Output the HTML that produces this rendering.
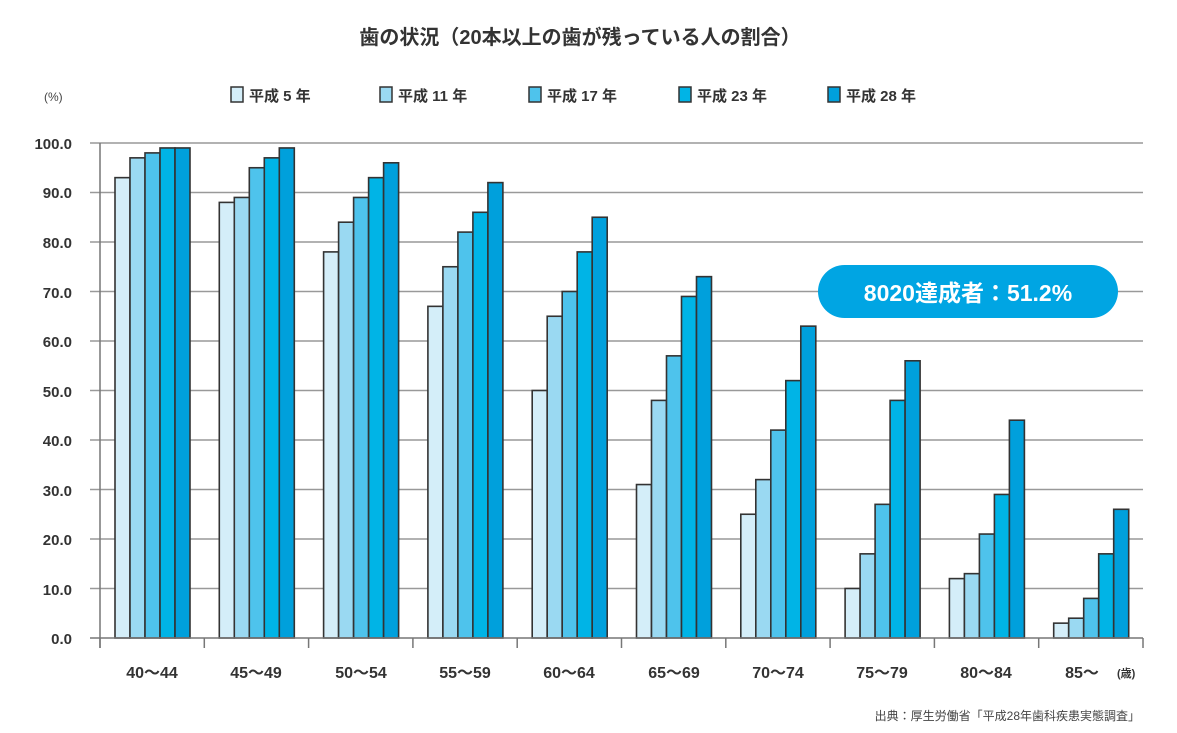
<!DOCTYPE html>
<html><head><meta charset="utf-8"><style>
html,body{margin:0;padding:0;background:#fff;}
svg{display:block;}
text{font-family:"Liberation Sans","Noto Sans CJK JP",sans-serif;font-weight:bold;fill:#333;}
</style></head><body>
<svg id="s" width="1177" height="733" viewBox="0 0 1177 733" xmlns="http://www.w3.org/2000/svg">
<text x="580" y="44" font-size="20" text-anchor="middle" fill="#222">歯の状況（20本以上の歯が残っている人の割合）</text>
<text x="44" y="101" font-size="12" style="font-weight:normal;fill:#444">(%)</text>
<g font-size="15">
<rect x="231" y="87" width="12" height="15" fill="#d4eef9" stroke="#333" stroke-width="1.5"/><text x="249" y="101">平成 5 年</text>
<rect x="380" y="87" width="12" height="15" fill="#9ad9f2" stroke="#333" stroke-width="1.5"/><text x="398" y="101">平成 11 年</text>
<rect x="529" y="87" width="12" height="15" fill="#4ec3ec" stroke="#333" stroke-width="1.5"/><text x="547" y="101">平成 17 年</text>
<rect x="679" y="87" width="12" height="15" fill="#00b4e6" stroke="#333" stroke-width="1.5"/><text x="697" y="101">平成 23 年</text>
<rect x="828" y="87" width="12" height="15" fill="#00a0dc" stroke="#333" stroke-width="1.5"/><text x="846" y="101">平成 28 年</text>
</g>
<g id="grid" stroke="#999" stroke-width="1.5"></g>
<g font-size="15" text-anchor="end">
<text x="72" y="149">100.0</text><text x="72" y="198">90.0</text><text x="72" y="248">80.0</text><text x="72" y="298">70.0</text><text x="72" y="347">60.0</text><text x="72" y="397">50.0</text><text x="72" y="446">40.0</text><text x="72" y="496">30.0</text><text x="72" y="545">20.0</text><text x="72" y="595">10.0</text><text x="72" y="644">0.0</text>
</g>
<g id="bars"></g>
<line x1="100" y1="143" x2="100" y2="648" stroke="#777" stroke-width="1.5"/>
<line x1="90" y1="638" x2="1143" y2="638" stroke="#777" stroke-width="1.5"/>
<g id="ticks" stroke="#777" stroke-width="1.5"></g>
<g font-size="16" text-anchor="middle">
<text x="152" y="678">40〜44</text><text x="256" y="678">45〜49</text><text x="361" y="678">50〜54</text><text x="465" y="678">55〜59</text><text x="569" y="678">60〜64</text><text x="674" y="678">65〜69</text><text x="778" y="678">70〜74</text><text x="882" y="678">75〜79</text><text x="986" y="678">80〜84</text><text x="1082" y="678">85〜</text>
</g>
<text x="1117" y="677" font-size="11">(歳)</text>
<rect x="818" y="265" width="300" height="53" rx="26.5" fill="#00a5e3"/>
<text x="968" y="301" font-size="23" text-anchor="middle" style="fill:#fff">8020達成者：51.2%</text>
<text x="1140" y="720" font-size="12" text-anchor="end" style="font-weight:normal;fill:#444">出典：厚生労働省「平成28年歯科疾患実態調査」</text>
</svg>
<script>
var NS="http://www.w3.org/2000/svg";
function el(p,t,a){var e=document.createElementNS(NS,t);for(var k in a)e.setAttribute(k,a[k]);document.getElementById(p).appendChild(e);}
for(var v=10;v<=100;v+=10){var y=638-v*4.95;el("grid","line",{x1:90,y1:y,x2:1143,y2:y});}
var pitch=104.3;
for(var i=0;i<=10;i++){var x=100+i*pitch;el("ticks","line",{x1:x,y1:638,x2:x,y2:648});}
var d=[[93,97,98,99,99],[88,89,95,97,99],[78,84,89,93,96],[67,75,82,86,92],[50,65,70,78,85],[31,48,57,69,73],[25,32,42,52,63],[10,17,27,48,56],[12,13,21,29,44],[3,4,8,17,26]];
var c=["#d4eef9","#9ad9f2","#4ec3ec","#00b4e6","#00a0dc"];
for(var g=0;g<10;g++)for(var b=0;b<5;b++){var x=115+g*pitch+b*15,h=d[g][b]*4.95;
el("bars","rect",{x:x,y:638-h,width:15,height:h,fill:c[b],stroke:"#333","stroke-width":1.6});}
</script>
</body></html>
